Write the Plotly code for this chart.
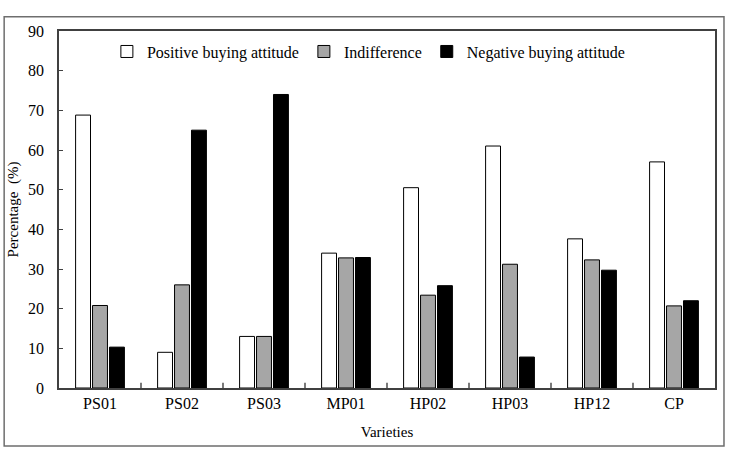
import plotly.graph_objects as go

varieties = ["PS01", "PS02", "PS03", "MP01", "HP02", "HP03", "HP12", "CP"]
positive = [68.8, 9.0, 13.0, 34.0, 50.5, 61.0, 37.6, 57.0]
indifference = [20.8, 26.0, 13.0, 32.8, 23.4, 31.2, 32.3, 20.7]
negative = [10.3, 65.0, 74.0, 32.9, 25.8, 7.8, 29.7, 22.0]
series_names = ["Positive buying attitude", "Indifference", "Negative buying attitude"]
y_ticks = [0, 10, 20, 30, 40, 50, 60, 70, 80, 90]

font_family = "Liberation Serif, Times New Roman, serif"
fills = ["#ffffff", "#a6a6a6", "#000000"]

fig = go.Figure()
for name, vals, col in zip(series_names, [positive, indifference, negative], fills):
    fig.add_trace(go.Bar(
        x=varieties, y=vals, name=name,
        marker=dict(color=col, line=dict(color="#000000", width=1)),
    ))

fig.update_layout(
    width=730, height=450,
    margin=dict(l=57, r=15, t=31, b=62),
    paper_bgcolor="white", plot_bgcolor="white",
    barmode="group", bargap=0.38, bargroupgap=0.12,
    font=dict(family=font_family, size=16, color="#000000"),
    showlegend=True,
    legend=dict(
        orientation="h", x=0.073, y=0.99, xanchor="left", yanchor="top",
        font=dict(family=font_family, size=16, color="#000000"),
        bgcolor="rgba(0,0,0,0)", itemwidth=30, traceorder="normal",
        tracegroupgap=0,
    ),
    xaxis=dict(
        title=dict(text="Varieties", font=dict(size=15), standoff=16),
        showline=True, linecolor="#404040", linewidth=1.5, mirror=True,
        ticks="", showgrid=False, tickfont=dict(size=16),
    ),
    yaxis=dict(
        title=dict(text="Percentage  (%)", font=dict(size=15), standoff=6),
        range=[0, 90], tickvals=y_ticks, showline=True, linecolor="#404040",
        linewidth=1.5, mirror=True, ticks="inside", ticklen=4, tickcolor="#404040",
        ticklabelstandoff=10,
        showgrid=False, zeroline=False, tickfont=dict(size=16),
    ),
    shapes=[dict(
        type="rect", xref="paper", yref="paper",
        x0=-0.0836, x1=1.0137, y0=-0.1625, y1=1.04,
        line=dict(color="#6e6e6e", width=1.5), fillcolor="rgba(0,0,0,0)", layer="below",
    )],
)

# inner category boundary ticks on x axis (inside, pointing up)
for i in range(1, len(varieties)):
    fig.add_shape(type="line", xref="x", yref="y", x0=i - 0.5, x1=i - 0.5, y0=0, y1=1.3,
                  line=dict(color="#202020", width=1.2))

fig.write_html("out.html")
